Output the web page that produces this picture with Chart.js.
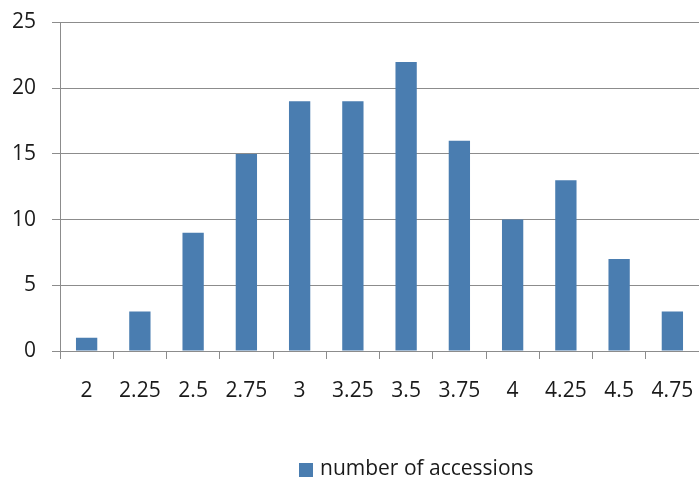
<!DOCTYPE html>
<html>
<head>
<meta charset="utf-8">
<script src="https://cdn.jsdelivr.net/npm/chart.js@4"></script>
<style>
  html, body { margin: 0; padding: 0; background: #fff; }
  #wrap { width: 699px; height: 481px; }
</style>
</head>
<body>
<div id="wrap"><canvas id="chart" width="699" height="481"></canvas></div>
<script>
// データ
const categories = ['2', '2.25', '2.5', '2.75', '3', '3.25', '3.5', '3.75', '4', '4.25', '4.5', '4.75'];
const accessions = [1, 3, 9, 15, 19, 19, 22, 16, 10, 13, 7, 3];
const seriesLabel = 'number of accessions';
const yMax = 25;
const yStep = 5;

const barColor = '#4a7db0';
const gridColor = '#8c8c8c';
const textColor = '#1a1a1a';
const fontFamily = '"Open Sans", "Liberation Sans", sans-serif';

// 凡例（元の図では中央より右寄りの下端）
const bottomLegend = {
    id: 'bottomLegend',
    afterDraw(chart) {
        const c = chart.ctx;
        const ds = chart.data.datasets[0];
        const boxX = 299, boxY = 463, box = 14;
        c.save();
        c.fillStyle = ds.backgroundColor;
        c.fillRect(boxX, boxY, box, box);
        c.fillStyle = textColor;
        c.font = '21px ' + fontFamily;
        c.textAlign = 'left';
        c.textBaseline = 'middle';
        c.fillText(ds.label, boxX + box + 7, boxY + box / 2 - 1);
        c.restore();
    }
};

const ctx = document.getElementById('chart').getContext('2d');
const chart = new Chart(ctx, {
    type: 'bar',
    data: {
        labels: categories,
        datasets: [{
            label: seriesLabel,
            data: accessions,
            backgroundColor: barColor,
            borderWidth: 0,
            categoryPercentage: 1,
            barPercentage: 0.4
        }]
    },
    plugins: [bottomLegend],
    options: {
        responsive: false,
        animation: false,
        layout: {padding: {left: 0, right: 0, top: 22.5, bottom: 0}},
        plugins: {
            tooltip: {enabled: false},
            legend: {display: false}
        },
        scales: {
            x: {
                offset: true,
                grid: {
                    display: true,
                    offset: true,
                    drawOnChartArea: false,
                    drawTicks: true,
                    tickLength: 8,
                    color: gridColor
                },
                border: {display: true, color: gridColor, width: 1},
                ticks: {
                    color: textColor,
                    padding: 19,
                    maxRotation: 0,
                    autoSkip: false,
                    font: {family: fontFamily, size: 21}
                },
                afterFit: (scale) => {
                    scale.height = 130;
                    scale.paddingLeft = 0;
                    scale.paddingRight = 0;
                }
            },
            y: {
                min: 0,
                max: yMax,
                grid: {
                    color: gridColor,
                    tickLength: 8,
                    lineWidth: 1
                },
                border: {display: true, color: gridColor, width: 1},
                ticks: {
                    stepSize: yStep,
                    color: textColor,
                    padding: 16,
                    font: {family: fontFamily, size: 21}
                },
                afterFit: (scale) => {
                    scale.width = 60;
                    scale.paddingTop = 0;
                    scale.paddingBottom = 0;
                }
            }
        }
    }
});
</script>
</body>
</html>
